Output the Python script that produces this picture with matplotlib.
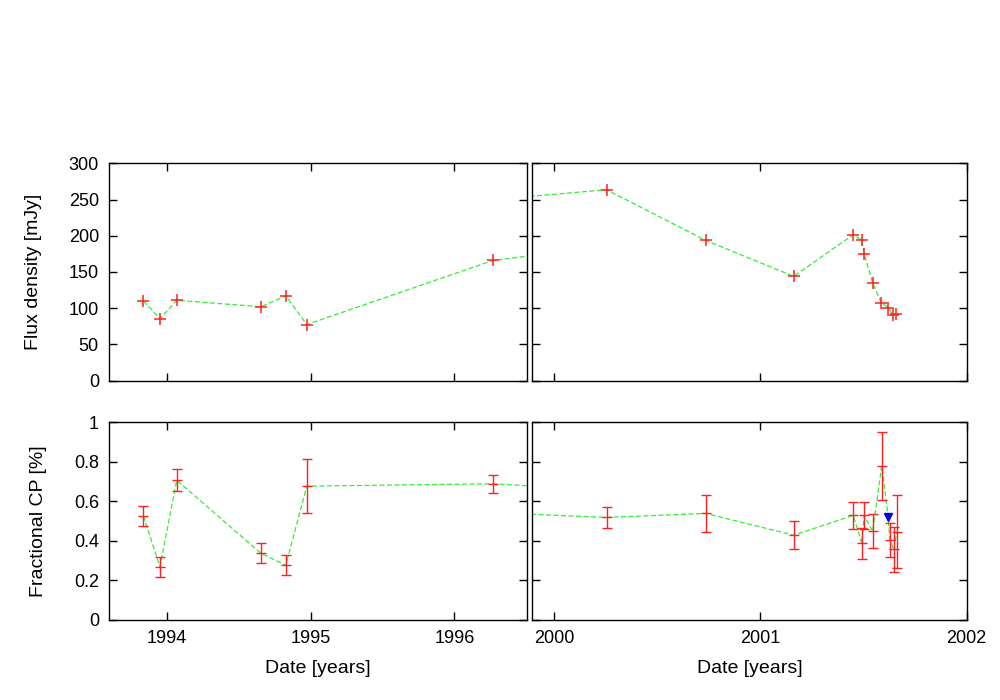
import numpy as np
import matplotlib
matplotlib.use("Agg")
import matplotlib.pyplot as plt

plt.rcParams['font.family'] = ['Liberation Sans', 'DejaVu Sans']
plt.rcParams['font.size'] = 13

# flux density (mJy) vs date (decimal years)
flux_t = [1993.838, 1993.953, 1994.070, 1994.656, 1994.828, 1994.974, 1996.270,
          2000.255, 2000.736, 2001.162, 2001.450, 2001.492, 2001.503, 2001.544,
          2001.586, 2001.620, 2001.643, 2001.656]
flux = [110, 85.5, 111, 102, 117, 77.5, 166,
        263.5, 193.5, 144, 201.5, 194, 175, 135,
        107.5, 101, 90, 92.5]

# fractional circular polarisation (%)
cp_t = [1993.838, 1993.953, 1994.070, 1994.656, 1994.828, 1994.974, 1996.270,
        2000.255, 2000.736, 2001.162, 2001.450, 2001.492, 2001.503, 2001.544,
        2001.588, 2001.627, 2001.646, 2001.662]
cp = [0.527, 0.27, 0.707, 0.337, 0.277, 0.677, 0.689,
      0.519, 0.539, 0.429, 0.529, 0.388, 0.529, 0.448,
      0.779, 0.407, 0.357, 0.446]
cp_err = [0.05, 0.05, 0.057, 0.05, 0.05, 0.138, 0.045,
          0.054, 0.093, 0.07, 0.07, 0.078, 0.07, 0.086,
          0.17, 0.086, 0.112, 0.184]

# upper limit point
lim_t = [2001.620]
lim_cp = [0.519]

# combined line (including the limit), sorted in time
line_t = cp_t[:15] + lim_t + cp_t[15:]
line_cp = cp[:15] + lim_cp + cp[15:]

red = '#ff2020'
green = '#33ee33'

fig = plt.figure(figsize=(10, 7), dpi=100)
W, H = 1000.0, 700.0
def box(x0, y0, x1, y1):
    return [x0 / W, 1 - y1 / H, (x1 - x0) / W, (y1 - y0) / H]

ax_tl = fig.add_axes(box(109.3, 163.3, 526.7, 380.7))
ax_tr = fig.add_axes(box(532.3, 163.3, 966.7, 380.7))
ax_bl = fig.add_axes(box(109.3, 422.3, 526.7, 620))
ax_br = fig.add_axes(box(532.3, 422.3, 966.7, 620))

for ax in (ax_tl, ax_tr):
    ax.plot(flux_t, flux, ls=(0, (4, 2)), color=green, lw=0.9, zorder=2)
    ax.plot(flux_t, flux, ls='none', marker='+', ms=8, mew=1.1, color=red, zorder=3)
    ax.set_ylim(0, 300)
    ax.set_yticks(np.arange(0, 301, 50))

for ax in (ax_bl, ax_br):
    ax.plot(line_t, line_cp, ls=(0, (4, 2)), color=green, lw=0.9, zorder=2)
    ax.errorbar(cp_t, cp, yerr=cp_err, fmt='none', ecolor=red, elinewidth=1.0,
                capsize=3.5, capthick=1.0, zorder=3)
    ax.plot(cp_t, cp, ls='none', marker='_', ms=7, mew=1.0, color=red, zorder=3)
    ax.plot(lim_t, lim_cp, ls='none', marker='v', ms=6, color='#0000ee', zorder=4)
    ax.set_ylim(0, 1)
    ax.set_yticks([0, 0.2, 0.4, 0.6, 0.8, 1.0])
    ax.set_yticklabels(['0', '0.2', '0.4', '0.6', '0.8', '1'])

for ax in (ax_tl, ax_bl):
    ax.set_xlim(1993.601, 1996.503)
    ax.set_xticks([1994, 1995, 1996])
for ax in (ax_tr, ax_br):
    ax.set_xlim(1999.895, 2002.0)
    ax.set_xticks([2000, 2001, 2002])

for ax in (ax_tl, ax_tr, ax_bl, ax_br):
    ax.tick_params(direction='in', length=6, width=1, top=True, right=True,
                   labelsize=13, pad=7.5)
    for s in ax.spines.values():
        s.set_linewidth(1.0)

ax_tl.tick_params(labelbottom=False)
ax_tr.tick_params(labelbottom=False, labelleft=False)
ax_br.tick_params(labelleft=False)

ax_tl.set_ylabel('Flux density [mJy]', fontsize=14, labelpad=19)
ax_bl.set_ylabel('Fractional CP [%]', fontsize=14, labelpad=19)
ax_bl.set_xlabel('Date [years]', fontsize=14, labelpad=9)
ax_br.set_xlabel('Date [years]', fontsize=14, labelpad=9)

fig.savefig('out.png', dpi=100)
